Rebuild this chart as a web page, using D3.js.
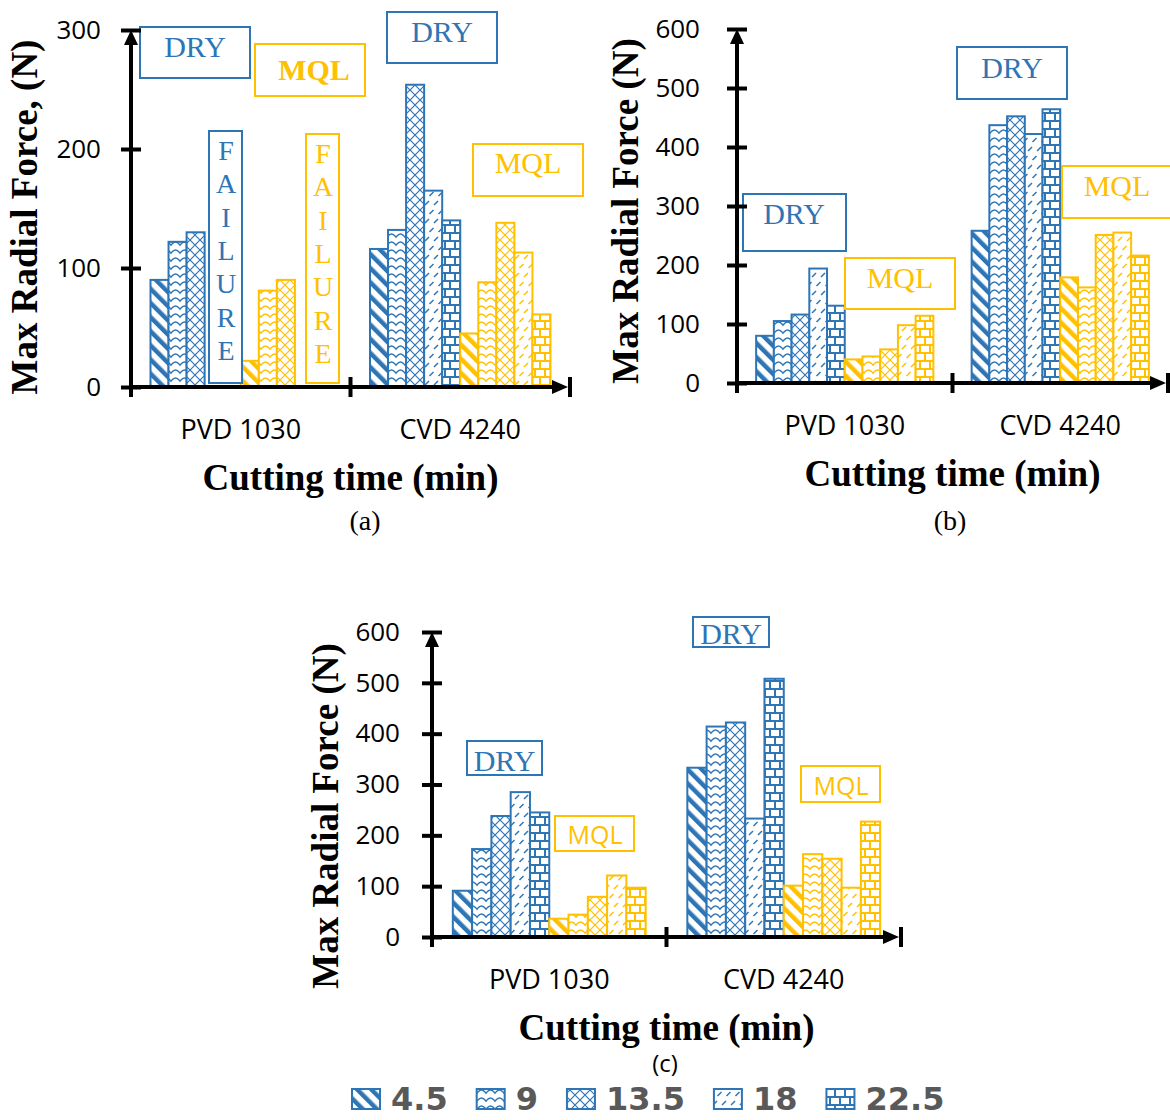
<!DOCTYPE html>
<html>
<head>
<meta charset="utf-8">
<script src="https://cdn.jsdelivr.net/npm/d3@7"></script>
<style>
  body { margin: 0; background: #fff; }
  .tick text { font-family: "Open Sans", sans-serif; font-size: 26px; fill: #000; }
  .cat text { font-family: "Open Sans", sans-serif; font-size: 27px; fill: #000; }
  .axtitle { font-family: "Liberation Serif", "Times New Roman", serif; font-weight: bold; font-size: 37px; fill: #000; }
</style>
</head>
<body>
<svg id="chart" width="1170" height="1120"></svg>
<script>
// ---- data ----
var groups = ["PVD 1030", "CVD 4240"];
var cuttingTimes = ["4.5", "9", "13.5", "18", "22.5"];

// (a)  null = tool failure, no bar
var aDryPVD = [90, 122, 130, null, null];
var aMqlPVD = [22, 81, 90, null, null];
var aDryCVD = [116, 132, 254, 165, 140];
var aMqlCVD = [45, 88, 138, 113, 61];
var aTicks = [0, 100, 200, 300];

// (b)
var bDryPVD = [80, 105, 116, 194, 131];
var bMqlPVD = [40, 45, 57, 98, 114];
var bDryCVD = [258, 437, 452, 422, 464];
var bMqlCVD = [179, 162, 251, 255, 216];
var bTicks = [0, 100, 200, 300, 400, 500, 600];

// (c)
var cDryPVD = [91, 173, 238, 285, 245];
var cMqlPVD = [36, 44, 79, 121, 97];
var cDryCVD = [333, 414, 422, 233, 508];
var cMqlCVD = [101, 163, 154, 97, 227];
var cTicks = [0, 100, 200, 300, 400, 500, 600];

var blue = "#2E75B6", gold = "#FFC000";

var svg = d3.select("#chart");
var defs = svg.append("defs");

// excel-like pattern fills, one set per colour
function makePatterns(color, key) {
  // wide downward diagonal
  var p = defs.append("pattern").attr("id", key + "0").attr("patternUnits", "userSpaceOnUse")
    .attr("width", 10).attr("height", 10).attr("patternTransform", "rotate(-45)");
  p.append("rect").attr("width", 10).attr("height", 10).attr("fill", "#fff");
  p.append("rect").attr("width", 4.5).attr("height", 10).attr("fill", color);

  // wave
  p = defs.append("pattern").attr("id", key + "1").attr("patternUnits", "userSpaceOnUse")
    .attr("width", 9).attr("height", 8);
  p.append("rect").attr("width", 9).attr("height", 8).attr("fill", "#fff");
  p.append("path").attr("d", "M-0.5,6 Q2,2 4.5,2 Q7,2 9.5,6").attr("fill", "none")
    .attr("stroke", color).attr("stroke-width", 1.4);

  // diagonal lattice
  p = defs.append("pattern").attr("id", key + "2").attr("patternUnits", "userSpaceOnUse")
    .attr("width", 10).attr("height", 10);
  p.append("rect").attr("width", 10).attr("height", 10).attr("fill", "#fff");
  p.append("path").attr("d", "M0,0 L10,10 M10,0 L0,10").attr("stroke", color).attr("stroke-width", 1.2);

  // dashed upward diagonal
  p = defs.append("pattern").attr("id", key + "3").attr("patternUnits", "userSpaceOnUse")
    .attr("width", 9).attr("height", 18);
  p.append("rect").attr("width", 9).attr("height", 18).attr("fill", "#fff");
  p.append("path").attr("d", "M2,7 L6,3 M6.5,16 L10.5,12 M-2.5,16 L1.5,12")
    .attr("stroke", color).attr("stroke-width", 1.5);

  // horizontal brick
  p = defs.append("pattern").attr("id", key + "4").attr("patternUnits", "userSpaceOnUse")
    .attr("width", 10).attr("height", 16);
  p.append("rect").attr("width", 10).attr("height", 16).attr("fill", "#fff");
  p.append("path").attr("d", "M0,1 H10 M0,9 H10 M5,1 V9 M0,9 V16 M10,9 V16")
    .attr("stroke", color).attr("stroke-width", 2).attr("fill", "none");
}
makePatterns(blue, "pb");
makePatterns(gold, "py");

var panels = [
  { x0: 131, x1: 570, y0: 387, y1: 30, max: 300, ticks: aTicks, pad: 20,
    dry: [aDryPVD, aDryCVD], mql: [aMqlPVD, aMqlCVD],
    ylab: "Max Radial Force, (N)", ylabX: 37, ylabY: 217,
    titleY: 490, letter: "(a)", letterX: 365, letterY: 530, letterSans: false,
    notes: [
      { t: "DRY", c: blue, dx: 9, dy: -360, w: 110, h: 51, tx: 55, ty: 30 },
      { t: "MQL", c: gold, bold: true, dx: 124, dy: -343, w: 110, h: 52, tx: 59, ty: 36 },
      { t: "FAILURE", c: blue, vert: true, dx: 78, dy: -256, w: 33, h: 252, tx: 17, ty: 29 },
      { t: "FAILURE", c: gold, vert: true, dx: 175, dy: -253, w: 33, h: 249, tx: 17, ty: 29 },
      { t: "DRY", c: blue, dx: 256, dy: -375, w: 110, h: 51, tx: 55, ty: 30 },
      { t: "MQL", c: gold, dx: 342, dy: -243, w: 110, h: 52, tx: 55, ty: 29 }
    ] },
  { x0: 737, x1: 1168, y0: 383, y1: 29, max: 600, ticks: bTicks, pad: 27,
    dry: [bDryPVD, bDryCVD], mql: [bMqlPVD, bMqlCVD],
    ylab: "Max Radial Force (N)", ylabX: 638, ylabY: 211,
    titleY: 486, letter: "(b)", letterX: 950, letterY: 530, letterSans: false,
    notes: [
      { t: "DRY", c: blue, dx: 6, dy: -189, w: 103, h: 57, tx: 51, ty: 30 },
      { t: "MQL", c: gold, dx: 108, dy: -125, w: 110, h: 51, tx: 55, ty: 30 },
      { t: "DRY", c: blue, dx: 220, dy: -336, w: 110, h: 52, tx: 55, ty: 31 },
      { t: "MQL", c: gold, dx: 325, dy: -217, w: 110, h: 52, tx: 55, ty: 30 }
    ] },
  { x0: 432, x1: 901, y0: 937, y1: 632, max: 600, ticks: cTicks, pad: 22,
    dry: [cDryPVD, cDryCVD], mql: [cMqlPVD, cMqlCVD],
    ylab: "Max Radial Force (N)", ylabX: 338, ylabY: 816,
    titleY: 1040, letter: "(c)", letterX: 665, letterY: 1072, letterSans: true,
    notes: [
      { t: "DRY", c: blue, dx: 35, dy: -196, w: 75, h: 34, tx: 37.5, ty: 30 },
      { t: "MQL", c: gold, sans: true, dx: 123, dy: -121, w: 79, h: 35, tx: 40, ty: 28 },
      { t: "DRY", c: blue, dx: 261, dy: -320, w: 76, h: 30, tx: 38, ty: 27 },
      { t: "MQL", c: gold, sans: true, dx: 369, dy: -171, w: 79, h: 36, tx: 40, ty: 29 }
    ] }
];

var seriesKeys = [];
cuttingTimes.forEach(function(t) { seriesKeys.push("DRY " + t); });
cuttingTimes.forEach(function(t) { seriesKeys.push("MQL " + t); });

panels.forEach(function(P) {
  var g = svg.append("g");

  var y = d3.scaleLinear().domain([0, P.max]).range([P.y0, P.y1]);
  var x = d3.scaleBand().domain(groups).range([P.x0, P.x1]).padding(0);
  var xs = d3.scaleBand().domain(seriesKeys).range([0, x.bandwidth()])
    .paddingInner(0).paddingOuter(1.08);

  // bars
  var rows = [];
  groups.forEach(function(grp, gi) {
    cuttingTimes.forEach(function(t, i) {
      rows.push({ grp: grp, key: "DRY " + t, i: i, v: P.dry[gi][i], color: blue, pat: "pb" + i });
    });
    cuttingTimes.forEach(function(t, i) {
      rows.push({ grp: grp, key: "MQL " + t, i: i, v: P.mql[gi][i], color: gold, pat: "py" + i });
    });
  });
  g.selectAll(".bar").data(rows.filter(function(d) { return d.v != null; }))
    .enter().append("rect")
    .attr("class", "bar")
    .attr("x", function(d) { return x(d.grp) + xs(d.key); })
    .attr("width", xs.bandwidth())
    .attr("y", function(d) { return y(d.v); })
    .attr("height", function(d) { return y(0) - y(d.v); })
    .attr("fill", function(d) { return "url(#" + d.pat + ")"; })
    .attr("stroke", function(d) { return d.color; })
    .attr("stroke-width", 2);

  // annotation boxes
  P.notes.forEach(function(n) {
    var bx = P.x0 + n.dx, by = P.y0 + n.dy;
    g.append("rect").attr("x", bx).attr("y", by).attr("width", n.w).attr("height", n.h)
      .attr("fill", "#fff").attr("stroke", n.c).attr("stroke-width", 2);
    if (n.vert) {
      n.t.split("").forEach(function(ch, k) {
        g.append("text").attr("x", bx + n.tx).attr("y", by + n.ty + k * 33.3)
          .attr("text-anchor", "middle").attr("fill", n.c)
          .style("font-family", "'Liberation Serif', serif").style("font-size", "28px")
          .text(ch);
      });
    } else {
      g.append("text").attr("x", bx + n.tx).attr("y", by + n.ty)
        .attr("text-anchor", "middle").attr("fill", n.c)
        .style("font-family", n.sans ? "'Open Sans', sans-serif" : "'Liberation Serif', serif")
        .style("font-size", n.sans ? "25px" : "30px")
        .style("font-weight", n.bold ? "bold" : "normal")
        .text(n.t);
    }
  });

  // y axis
  var ya = g.append("g").attr("transform", "translate(" + P.x0 + ",0)")
    .call(d3.axisLeft(y).tickValues(P.ticks).tickSizeInner(10).tickSizeOuter(0).tickPadding(P.pad));
  ya.select(".domain").remove();
  ya.selectAll(".tick line").attr("x1", 10).attr("stroke", "#000").attr("stroke-width", 4);

  g.append("line").attr("x1", P.x0).attr("x2", P.x0).attr("y1", y(0) + 10).attr("y2", y(P.max) + 4)
    .attr("stroke", "#000").attr("stroke-width", 4);
  g.append("path")
    .attr("d", "M" + P.x0 + "," + y(P.max) + " l-7,15 h14 z")
    .attr("fill", "#000");

  // x axis
  var xa = g.append("g").attr("class", "cat").attr("transform", "translate(0," + P.y0 + ")")
    .call(d3.axisBottom(x).tickSize(0));
  xa.select(".domain").remove();
  xa.selectAll("text").attr("dy", null).attr("y", 52);

  g.append("line").attr("x1", P.x0).attr("x2", P.x1 - 12).attr("y1", P.y0).attr("y2", P.y0)
    .attr("stroke", "#000").attr("stroke-width", 4);
  g.append("path")
    .attr("d", "M" + (P.x1 - 2) + "," + P.y0 + " l-16,-7 v14 z")
    .attr("fill", "#000");
  var bounds = groups.map(function(d) { return x(d); }).concat([P.x1]);
  g.selectAll(".xtick").data(bounds).enter().append("line")
    .attr("x1", function(d) { return d; }).attr("x2", function(d) { return d; })
    .attr("y1", P.y0 - 10).attr("y2", P.y0 + 10)
    .attr("stroke", "#000").attr("stroke-width", 4);

  // titles
  g.append("text").attr("class", "axtitle")
    .attr("transform", "translate(" + P.ylabX + "," + P.ylabY + ") rotate(-90)")
    .attr("text-anchor", "middle").text(P.ylab);
  g.append("text").attr("class", "axtitle")
    .attr("x", (P.x0 + P.x1) / 2).attr("y", P.titleY)
    .attr("text-anchor", "middle").text("Cutting time (min)");
  g.append("text")
    .attr("x", P.letterX).attr("y", P.letterY).attr("text-anchor", "middle")
    .style("font-family", P.letterSans ? "'Open Sans', sans-serif" : "'Liberation Serif', serif")
    .style("font-size", P.letterSans ? "24px" : "28px")
    .text(P.letter);
});

// legend
var leg = svg.append("g");
var lx = 352;
cuttingTimes.forEach(function(t, i) {
  leg.append("rect").attr("x", lx).attr("y", 1089).attr("width", 28).attr("height", 20)
    .attr("fill", "url(#pb" + i + ")").attr("stroke", blue).attr("stroke-width", 2);
  var tx = leg.append("text").attr("x", lx + 39).attr("y", 1110)
    .style("font-family", "'DejaVu Sans', sans-serif").style("font-weight", "bold")
    .style("font-size", "32px").attr("fill", "#595959").text(t);
  lx = lx + 39 + tx.node().getComputedTextLength() + 29;
});
</script>
</body>
</html>
